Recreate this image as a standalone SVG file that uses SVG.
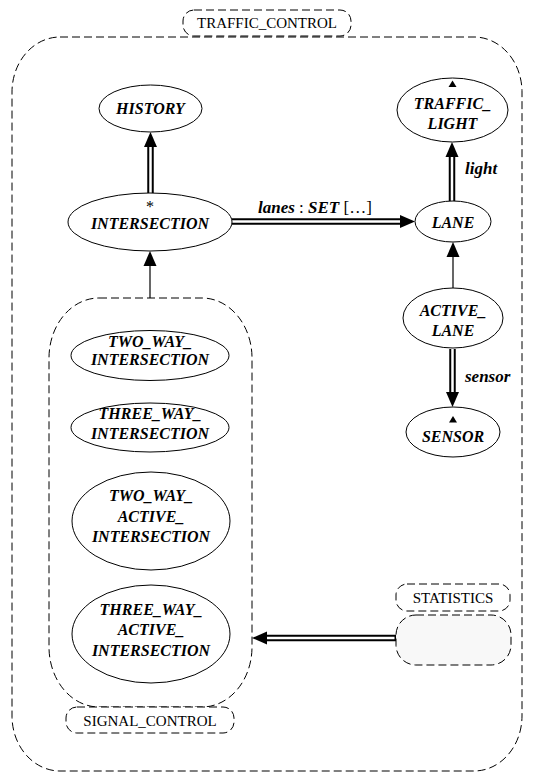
<svg xmlns="http://www.w3.org/2000/svg" width="547" height="772" viewBox="0 0 547 772">
<style>
  .cl{fill:none;stroke:#000;stroke-width:1;stroke-dasharray:8,4}
  .lb{fill:#fff;stroke:#000;stroke-width:1;stroke-dasharray:8,4}
  .nd{fill:#fff;stroke:#000;stroke-width:1}
  .t{font-family:"Liberation Serif","Times New Roman",serif;font-size:16px;font-weight:bold;font-style:italic;text-anchor:middle;fill:#000}
  .e{font-family:"Liberation Serif","Times New Roman",serif;font-size:17px;font-weight:bold;font-style:italic;fill:#000}
  .c{font-family:"Liberation Serif","Times New Roman",serif;font-size:15px;text-anchor:middle;fill:#000}
  .dl{stroke:#000;stroke-width:6.5;fill:none}
  .dw{stroke:#fff;stroke-width:2.5;fill:none}
  .sl{stroke:#000;stroke-width:1.2;fill:none}
  .ah{fill:#000;stroke:none}
</style>
<rect width="547" height="772" fill="#fff"/>

<g id="cluster-traffic-control">
  <rect class="cl" x="12" y="37" width="510" height="734" rx="48" ry="55"/>
  <rect class="lb" x="183" y="10" width="168" height="26" rx="11" ry="11"/>
  <text class="c" x="267" y="28">TRAFFIC_CONTROL</text>
</g>

<g id="cluster-signal-control">
  <rect class="cl" x="49" y="298" width="203" height="409" rx="50" ry="60"/>
  <rect class="lb" x="66" y="707" width="168" height="26" rx="11" ry="11"/>
  <text class="c" x="150" y="725.5">SIGNAL_CONTROL</text>
</g>

<g id="cluster-statistics">
  <rect x="396" y="615" width="115" height="50" rx="20" ry="20" fill="#f8f8f8" stroke="#000" stroke-width="1" stroke-dasharray="8,4"/>
  <rect class="lb" x="396" y="584" width="114" height="27" rx="11" ry="11"/>
  <text class="c" x="453" y="603">STATISTICS</text>
</g>

<g id="connectors">
  <!-- INTERSECTION -> HISTORY -->
  <line class="dl" x1="150.5" y1="193" x2="150.5" y2="146"/>
  <line class="dw" x1="150.5" y1="193" x2="150.5" y2="146"/>
  <polygon class="ah" points="144,147 157,147 150.5,132"/>
  <!-- INTERSECTION -> LANE -->
  <line class="dl" x1="232" y1="221.5" x2="401" y2="221.5"/>
  <line class="dw" x1="232" y1="221.5" x2="401" y2="221.5"/>
  <polygon class="ah" points="400,215 400,228 415,221.5"/>
  <!-- LANE -> TRAFFIC_LIGHT -->
  <line class="dl" x1="452" y1="201" x2="452" y2="156"/>
  <line class="dw" x1="452" y1="201" x2="452" y2="156"/>
  <polygon class="ah" points="445.5,157 458.5,157 452,142"/>
  <!-- ACTIVE_LANE -> LANE -->
  <line class="sl" x1="453" y1="288" x2="453" y2="256"/>
  <polygon class="ah" points="446.5,257 459.5,257 453,242"/>
  <!-- ACTIVE_LANE -> SENSOR -->
  <line class="dl" x1="452.5" y1="349" x2="452.5" y2="393"/>
  <line class="dw" x1="452.5" y1="349" x2="452.5" y2="393"/>
  <polygon class="ah" points="446,392 459,392 452.5,407"/>
  <!-- SIGNAL_CONTROL -> INTERSECTION -->
  <line class="sl" x1="150" y1="298" x2="150" y2="265"/>
  <polygon class="ah" points="143.5,266 156.5,266 150,251"/>
  <!-- STATISTICS -> SIGNAL_CONTROL -->
  <line class="dl" x1="396" y1="638" x2="266" y2="638"/>
  <line class="dw" x1="394.5" y1="638" x2="266" y2="638"/>
  <polygon class="ah" points="267,631.5 267,644.5 252,638"/>
  <!-- labels -->
  <text class="e" x="258" y="212.5"><tspan>lanes</tspan><tspan font-weight="normal" font-style="normal"> : </tspan><tspan>SET</tspan><tspan font-weight="normal" font-style="normal"> […]</tspan></text>
  <text class="e" x="465" y="174">light</text>
  <text class="e" x="465" y="382">sensor</text>
</g>

<g id="node-history">
  <ellipse class="nd" cx="150.5" cy="108.5" rx="51.5" ry="23.5"/>
  <text class="t" x="150.5" y="113.5">HISTORY</text>
</g>

<g id="node-intersection">
  <ellipse class="nd" cx="150" cy="222" rx="82" ry="29"/>
  <text class="c" x="150" y="212" style="font-size:16px">*</text>
  <text class="t" x="150" y="228.5">INTERSECTION</text>
</g>

<g id="node-traffic-light">
  <ellipse class="nd" cx="452.5" cy="110" rx="55.5" ry="32"/>
  <polygon class="ah" points="448.5,87 456.5,87 452.5,80.5"/>
  <text class="t" x="452.5" y="109">TRAFFIC_</text>
  <text class="t" x="452.5" y="128.5">LIGHT</text>
</g>

<g id="node-lane">
  <ellipse class="nd" cx="453" cy="221.5" rx="38" ry="20.5"/>
  <text class="t" x="453" y="227.5">LANE</text>
</g>

<g id="node-active-lane">
  <ellipse class="nd" cx="453" cy="318" rx="50" ry="30"/>
  <text class="t" x="453" y="315.5">ACTIVE_</text>
  <text class="t" x="453" y="336">LANE</text>
</g>

<g id="node-sensor">
  <ellipse class="nd" cx="453" cy="432" rx="47" ry="25"/>
  <polygon class="ah" points="449,422.5 457,422.5 453,416"/>
  <text class="t" x="453" y="442">SENSOR</text>
</g>

<g id="node-two-way-intersection">
  <ellipse class="nd" cx="150" cy="355.5" rx="79" ry="25"/>
  <text class="t" x="150" y="347">TWO_WAY_</text>
  <text class="t" x="150" y="365">INTERSECTION</text>
</g>

<g id="node-three-way-intersection">
  <ellipse class="nd" cx="150" cy="427.5" rx="79" ry="24.5"/>
  <text class="t" x="150" y="419">THREE_WAY_</text>
  <text class="t" x="150" y="438.5">INTERSECTION</text>
</g>

<g id="node-two-way-active-intersection">
  <ellipse class="nd" cx="151" cy="521" rx="79" ry="49"/>
  <text class="t" x="151" y="501">TWO_WAY_</text>
  <text class="t" x="151" y="522">ACTIVE_</text>
  <text class="t" x="151" y="542">INTERSECTION</text>
</g>

<g id="node-three-way-active-intersection">
  <ellipse class="nd" cx="151" cy="634" rx="79" ry="49"/>
  <text class="t" x="151" y="614.5">THREE_WAY_</text>
  <text class="t" x="151" y="635">ACTIVE_</text>
  <text class="t" x="151" y="655.5">INTERSECTION</text>
</g>
</svg>
